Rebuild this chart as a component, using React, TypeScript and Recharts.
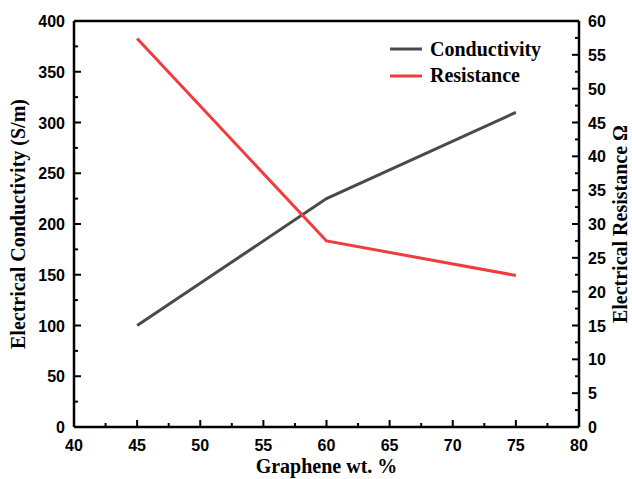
import React from 'react'
import { LineChart, Line, XAxis, YAxis, Legend, ReferenceLine } from 'recharts'

const graphene = [45, 60, 75]
const conductivity = [100, 225, 310]
const resistance = [57.4, 27.5, 22.4]

const xTicks = [40, 42.5, 45, 47.5, 50, 52.5, 55, 57.5, 60, 62.5, 65, 67.5, 70, 72.5, 75, 77.5, 80]
const leftTicks = [0, 25, 50, 75, 100, 125, 150, 175, 200, 225, 250, 275, 300, 325, 350, 375, 400]
const rightTicks = [
  0, 2.5, 5, 7.5, 10, 12.5, 15, 17.5, 20, 22.5, 25, 27.5, 30, 32.5, 35, 37.5, 40, 42.5, 45, 47.5, 50,
  52.5, 55, 57.5, 60,
]

const data = graphene.map((wt, i) => ({
  wt,
  conductivity: conductivity[i],
  resistance: resistance[i],
}))

const SANS = '"Liberation Sans", Arial, sans-serif'
const SERIF = '"Liberation Serif", "Times New Roman", serif'

const isMajor = (v: number, step: number) => Math.abs(v / step - Math.round(v / step)) < 1e-6

const XTick = ({ x, y, payload }: any) => {
  const major = isMajor(payload.value, 5)
  return (
    <g>
      <line x1={x} x2={x} y1={y} y2={y - (major ? 7 : 4)} stroke="#000" strokeWidth={2} />
      {major && (
        <text x={x} y={y + 24} textAnchor="middle" fontFamily={SANS} fontWeight="bold" fontSize={16} fill="#000">
          {payload.value}
        </text>
      )}
    </g>
  )
}

const LeftTick = ({ x, y, payload }: any) => {
  const major = isMajor(payload.value, 50)
  return (
    <g>
      <line x1={x} x2={x + (major ? 7 : 4)} y1={y} y2={y} stroke="#000" strokeWidth={2} />
      {major && (
        <text x={x - 9} y={y + 6} textAnchor="end" fontFamily={SANS} fontWeight="bold" fontSize={16} fill="#000">
          {payload.value}
        </text>
      )}
    </g>
  )
}

const RightTick = ({ x, y, payload }: any) => {
  const major = isMajor(payload.value, 5)
  return (
    <g>
      <line x1={x} x2={x - (major ? 7 : 4)} y1={y} y2={y} stroke="#000" strokeWidth={2} />
      {major && (
        <text x={x + 9} y={y + 6} textAnchor="start" fontFamily={SANS} fontWeight="bold" fontSize={16} fill="#000">
          {payload.value}
        </text>
      )}
    </g>
  )
}

const VLabel = ({ viewBox, value, dx }: any) => {
  const cx = viewBox.x + dx
  const cy = viewBox.y + viewBox.height / 2
  return (
    <text
      x={cx}
      y={cy}
      transform={`rotate(-90, ${cx}, ${cy})`}
      textAnchor="middle"
      dominantBaseline="central"
      fontFamily={SERIF}
      fontWeight="bold"
      fontSize={20}
      fill="#000"
    >
      {value}
    </text>
  )
}

const LegendBox = ({ payload }: any) => (
  <div>
    {(payload || []).map((item: any) => (
      <div key={item.value} style={{ display: 'flex', alignItems: 'center', height: 26.5 }}>
        <svg width={42} height={10}>
          <line x1={2} x2={34} y1={5} y2={5} stroke={item.color} strokeWidth={3} />
        </svg>
        <span style={{ fontFamily: SERIF, fontWeight: 'bold', fontSize: 20, color: '#000' }}>{item.value}</span>
      </div>
    ))}
  </div>
)

export default function App() {
  return (
    <div style={{ position: 'absolute', left: 0, top: 0, width: 632, height: 479, background: '#fff' }}>
      <LineChart width={632} height={479} data={data} margin={{ top: 21, right: 0, bottom: 0, left: 0 }}>
        <XAxis
          dataKey="wt"
          type="number"
          domain={[40, 80]}
          ticks={xTicks}
          interval={0}
          height={52}
          tickSize={0}
          tickMargin={0}
          tickLine={false}
          tick={(p: any) => <XTick {...p} />}
          axisLine={{ stroke: '#000', strokeWidth: 2.5 }}
          label={{ value: 'Graphene wt. %', position: 'insideBottom', offset: 6, fontFamily: SERIF, fontWeight: 'bold', fontSize: 20, fill: '#000' }}
        />
        <YAxis
          yAxisId="left"
          orientation="left"
          domain={[0, 400]}
          ticks={leftTicks}
          interval={0}
          width={74}
          tickSize={0}
          tickMargin={0}
          tickLine={false}
          tick={(p: any) => <LeftTick {...p} />}
          axisLine={{ stroke: '#000', strokeWidth: 2.5 }}
          label={<VLabel value="Electrical Conductivity (S/m)" dx={18} />}
        />
        <YAxis
          yAxisId="right"
          orientation="right"
          domain={[0, 60]}
          ticks={rightTicks}
          interval={0}
          width={53}
          tickSize={0}
          tickMargin={0}
          tickLine={false}
          tick={(p: any) => <RightTick {...p} />}
          axisLine={{ stroke: '#000', strokeWidth: 2.5 }}
          label={<VLabel value="Electrical Resistance Ω" dx={41} />}
        />
        <ReferenceLine yAxisId="left" y={400} stroke="#000" strokeWidth={2.5} ifOverflow="visible" />
        <Legend
          layout="vertical"
          verticalAlign="middle"
          align="center"
          content={<LegendBox />}
          wrapperStyle={{ position: 'absolute', left: 388, top: 36, width: 180 }}
        />
        <Line
          yAxisId="left"
          type="linear"
          dataKey="conductivity"
          name="Conductivity"
          stroke="#4a4a4a"
          strokeWidth={3}
          dot={false}
          isAnimationActive={false}
        />
        <Line
          yAxisId="right"
          type="linear"
          dataKey="resistance"
          name="Resistance"
          stroke="#f03c3c"
          strokeWidth={3}
          dot={false}
          isAnimationActive={false}
        />
      </LineChart>
    </div>
  )
}
